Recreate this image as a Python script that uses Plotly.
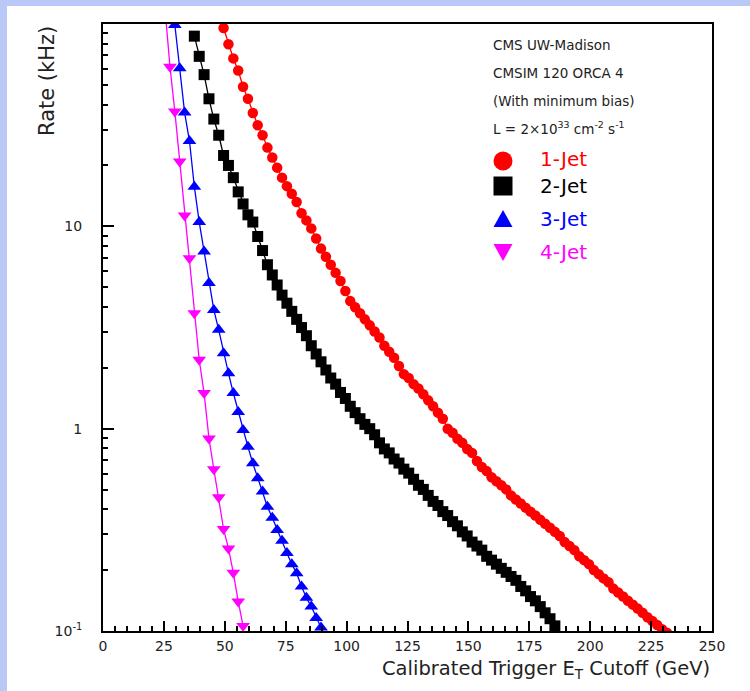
import plotly.graph_objects as go

# ---------------- data ----------------
x_1jet = [49.5, 51.5, 53.5, 55.5, 57.5, 59.5, 61.5, 63.5, 65.5, 67.5,
          69.5, 71.5, 73.5, 75.5, 77.5, 79.5, 81.5, 83.5, 85.5, 87.5,
          89.5, 91.5, 93.5, 95.5, 97.5, 99.5, 101.5, 103.5, 105.5, 107.5,
          109.5, 111.5, 113.5, 115.5, 117.5, 119.5, 121.5, 123.5, 125.5, 127.5,
          129.5, 131.5, 133.5, 135.5, 137.5, 139.5, 141.5, 143.5, 145.5, 147.5,
          149.5, 151.5, 153.5, 155.5, 157.5, 159.5, 161.5, 163.5, 165.5, 167.5,
          169.5, 171.5, 173.5, 175.5, 177.5, 179.5, 181.5, 183.5, 185.5, 187.5,
          189.5, 191.5, 193.5, 195.5, 197.5, 199.5, 201.5, 203.5, 205.5, 207.5,
          209.5, 211.5, 213.5, 215.5, 217.5, 219.5, 221.5, 223.5, 225.5, 227.5,
          229.5, 231.5]
rate_1jet = [95.5, 79.4, 67.6, 58.9, 49.0, 42.7, 36.3, 31.6, 28.2, 24.5,
             21.9, 19.5, 17.4, 15.8, 14.5, 13.2, 11.6, 10.7, 9.77, 8.71,
             7.76, 7.08, 6.46, 5.89, 5.37, 4.79, 4.27, 3.98, 3.72, 3.47,
             3.24, 3.02, 2.82, 2.57, 2.40, 2.24, 2.04, 1.86, 1.78, 1.66,
             1.58, 1.48, 1.38, 1.29, 1.20, 1.12, 1.00, 0.955, 0.891, 0.851,
             0.794, 0.759, 0.692, 0.646, 0.617, 0.575, 0.550, 0.525, 0.501, 0.468,
             0.447, 0.427, 0.407, 0.389, 0.372, 0.355, 0.339, 0.324, 0.309, 0.295,
             0.275, 0.263, 0.251, 0.234, 0.224, 0.214, 0.200, 0.191, 0.182, 0.174,
             0.162, 0.155, 0.148, 0.141, 0.135, 0.129, 0.123, 0.117, 0.112, 0.107,
             0.102, 0.098]

x_2jet = [37.5, 39.5, 41.5, 43.5, 45.5, 47.5, 49.5, 51.5, 53.5, 55.5,
          57.5, 59.5, 61.5, 63.5, 65.5, 67.5, 69.5, 71.5, 73.5, 75.5,
          77.5, 79.5, 81.5, 83.5, 85.5, 87.5, 89.5, 91.5, 93.5, 95.5,
          97.5, 99.5, 101.5, 103.5, 105.5, 107.5, 109.5, 111.5, 113.5, 115.5,
          117.5, 119.5, 121.5, 123.5, 125.5, 127.5, 129.5, 131.5, 133.5, 135.5,
          137.5, 139.5, 141.5, 143.5, 145.5, 147.5, 149.5, 151.5, 153.5, 155.5,
          157.5, 159.5, 161.5, 163.5, 165.5, 167.5, 169.5, 171.5, 173.5, 175.5,
          177.5, 179.5, 181.5, 183.5, 185.5]
rate_2jet = [87.1, 69.2, 56.2, 42.7, 33.9, 28.2, 22.4, 20.0, 17.4, 14.8,
             12.9, 11.4, 10.5, 8.91, 7.59, 6.46, 5.75, 5.13, 4.57, 4.17,
             3.80, 3.47, 3.16, 2.88, 2.57, 2.34, 2.14, 1.95, 1.78, 1.66,
             1.51, 1.41, 1.29, 1.20, 1.12, 1.05, 1.00, 0.933, 0.851, 0.794,
             0.759, 0.708, 0.676, 0.631, 0.603, 0.562, 0.525, 0.501, 0.468, 0.437,
             0.417, 0.389, 0.372, 0.347, 0.331, 0.309, 0.295, 0.275, 0.263, 0.251,
             0.234, 0.224, 0.214, 0.204, 0.195, 0.186, 0.178, 0.166, 0.158, 0.148,
             0.141, 0.132, 0.123, 0.115, 0.106]

x_3jet = [29.5, 31.5, 33.5, 35.5, 37.5, 39.5, 41.5, 43.5, 45.5, 47.5,
          49.5, 51.5, 53.5, 55.5, 57.5, 59.5, 61.5, 63.5, 65.5, 67.5,
          69.5, 71.5, 73.5, 75.5, 77.5, 79.5, 81.5, 83.5, 85.5, 87.5, 89.5]
rate_3jet = [98.9, 60.4, 36.5, 26.4, 15.7, 10.5, 7.50, 5.24, 3.86, 3.08,
             2.36, 1.88, 1.50, 1.21, 0.986, 0.813, 0.675, 0.569, 0.489, 0.411,
             0.363, 0.316, 0.279, 0.243, 0.214, 0.193, 0.166, 0.146, 0.132, 0.116, 0.104]

x_4jet = [25.5, 27.5, 29.5, 31.5, 33.5, 35.5, 37.5, 39.5, 41.5, 43.5,
          45.5, 47.5, 49.5, 51.5, 53.5, 55.5, 57.5]
rate_4jet = [117.0, 61.5, 36.9, 20.9, 11.3, 6.95, 3.72, 2.19, 1.50, 0.895,
             0.630, 0.458, 0.319, 0.256, 0.194, 0.140, 0.106]

series_names = ["1-Jet", "2-Jet", "3-Jet", "4-Jet"]
info_lines = ["CMS UW-Madison", "CMSIM 120 ORCA 4", "(With minimum bias)",
              "L = 2\u00d710<sup>33</sup> cm<sup>-2</sup> s<sup>-1</sup>"]

x_ticks = [0, 25, 50, 75, 100, 125, 150, 175, 200, 225, 250]
y_ticks = [0.1, 1, 10]
y_ticktext = ["10<sup>-1</sup>", "1", "10"]
y_minor = [0.2, 0.3, 0.4, 0.5, 0.6, 0.7, 0.8, 0.9,
           2, 3, 4, 5, 6, 7, 8, 9,
           20, 30, 40, 50, 60, 70, 80, 90]

# ---------------- styling ----------------
W, H = 750, 691
L, R, T, B = 103, 38, 24, 60
PW, PH = W - L - R, H - T - B
FONT = "DejaVu Sans"
BLUE_BG = "#bac8f8"


def px(xp):
    return (xp - L) / PW


def py(yp):
    return (H - B - yp) / PH


styles = [
    dict(color="#ff0000", symbol="circle", size=10.5),
    dict(color="#000000", symbol="square", size=11),
    dict(color="#0000ff", symbol="triangle-up", size=12),
    dict(color="#ff00ff", symbol="triangle-down", size=12),
]
xs = [x_1jet, x_2jet, x_3jet, x_4jet]
ys = [rate_1jet, rate_2jet, rate_3jet, rate_4jet]

fig = go.Figure()
for name, st, xv, yv in zip(series_names, styles, xs, ys):
    fig.add_trace(go.Scatter(
        x=xv, y=yv, name=name, mode="lines+markers",
        line=dict(color=st["color"], width=1.3),
        marker=dict(color=st["color"], symbol=st["symbol"], size=st["size"]),
        showlegend=False,
    ))

shapes = [
    dict(type="rect", xref="paper", yref="paper", layer="below",
         x0=px(7), x1=px(W + 5), y0=py(H + 5), y1=py(6),
         fillcolor="white", line=dict(width=0)),
]

# legend keys (drawn as pixel-sized shapes)
key_x = px(503)
key_y = [py(161), py(186), py(219), py(252)]
s = 9.5
shapes.append(dict(type="circle", xref="paper", yref="paper",
                   xsizemode="pixel", ysizemode="pixel",
                   xanchor=key_x, yanchor=key_y[0],
                   x0=-s, x1=s, y0=-s, y1=s,
                   fillcolor="#ff0000", line=dict(width=0)))
shapes.append(dict(type="rect", xref="paper", yref="paper",
                   xsizemode="pixel", ysizemode="pixel",
                   xanchor=key_x, yanchor=key_y[1],
                   x0=-s, x1=s, y0=-s, y1=s,
                   fillcolor="#000000", line=dict(width=0)))
shapes.append(dict(type="path", xref="paper", yref="paper",
                   xsizemode="pixel", ysizemode="pixel",
                   xanchor=key_x, yanchor=key_y[2],
                   path=f"M{-s},{-s * 0.85} L{s},{-s * 0.85} L0,{s * 0.95} Z",
                   fillcolor="#0000ff", line=dict(width=0)))
shapes.append(dict(type="path", xref="paper", yref="paper",
                   xsizemode="pixel", ysizemode="pixel",
                   xanchor=key_x, yanchor=key_y[3],
                   path=f"M{-s},{s * 0.85} L{s},{s * 0.85} L0,{-s * 0.95} Z",
                   fillcolor="#ff00ff", line=dict(width=0)))

annotations = []
info_y = [45, 73, 101, 128]
for txt, yp in zip(info_lines, info_y):
    annotations.append(dict(text=txt, xref="paper", yref="paper",
                            x=px(491), y=py(yp), xanchor="left", yanchor="middle",
                            showarrow=False, font=dict(family=FONT, size=13.5, color="#222")))
lab_y = [159, 186, 219, 252]
for name, st, yp in zip(series_names, styles, lab_y):
    annotations.append(dict(text=name, xref="paper", yref="paper",
                            x=px(538), y=py(yp), xanchor="left", yanchor="middle",
                            showarrow=False, font=dict(family=FONT, size=20, color=st["color"])))

annotations.append(dict(text="Calibrated Trigger E<sub>T</sub> Cutoff (GeV)",
                        xref="paper", yref="paper", x=px(712), y=py(669),
                        xanchor="right", yanchor="middle", showarrow=False,
                        font=dict(family=FONT, size=19.5, color="#222")))
annotations.append(dict(text="Rate (kHz)", textangle=-90,
                        xref="paper", yref="paper", x=px(47), y=py(81),
                        xanchor="center", yanchor="middle", showarrow=False,
                        font=dict(family=FONT, size=21, color="#222")))

fig.update_layout(
    width=W, height=H,
    margin=dict(l=L, r=R, t=T, b=B, pad=0),
    paper_bgcolor=BLUE_BG, plot_bgcolor="white",
    font=dict(family=FONT, size=14, color="#222"),
    shapes=shapes, annotations=annotations,
    showlegend=False,
)
fig.update_xaxes(
    range=[0, 250], tickmode="array", tickvals=x_ticks,
    ticks="inside", ticklen=10, tickwidth=1.5, tickcolor="black",
    minor=dict(dtick=5, ticks="inside", ticklen=5, tickwidth=1.5, tickcolor="black", showgrid=False),
    showline=True, linecolor="black", linewidth=2, mirror=True,
    showgrid=False, zeroline=False, ticklabelstandoff=1,
    tickfont=dict(family=FONT, size=14, color="#222"),
)
fig.update_yaxes(
    type="log", range=[-1, 2], tickmode="array", tickvals=y_ticks, ticktext=y_ticktext,
    ticks="inside", ticklen=11, tickwidth=1.5, tickcolor="black",
    minor=dict(tickmode="array", tickvals=y_minor, ticks="inside", ticklen=5,
               tickwidth=1.5, tickcolor="black", showgrid=False),
    showline=True, linecolor="black", linewidth=2, mirror=True,
    showgrid=False, zeroline=False, ticklabelstandoff=16,
    tickfont=dict(family=FONT, size=14, color="#222"),
)

fig.write_html("out.html", config={"displayModeBar": False},
               post_script="document.body.style.margin='0';")
